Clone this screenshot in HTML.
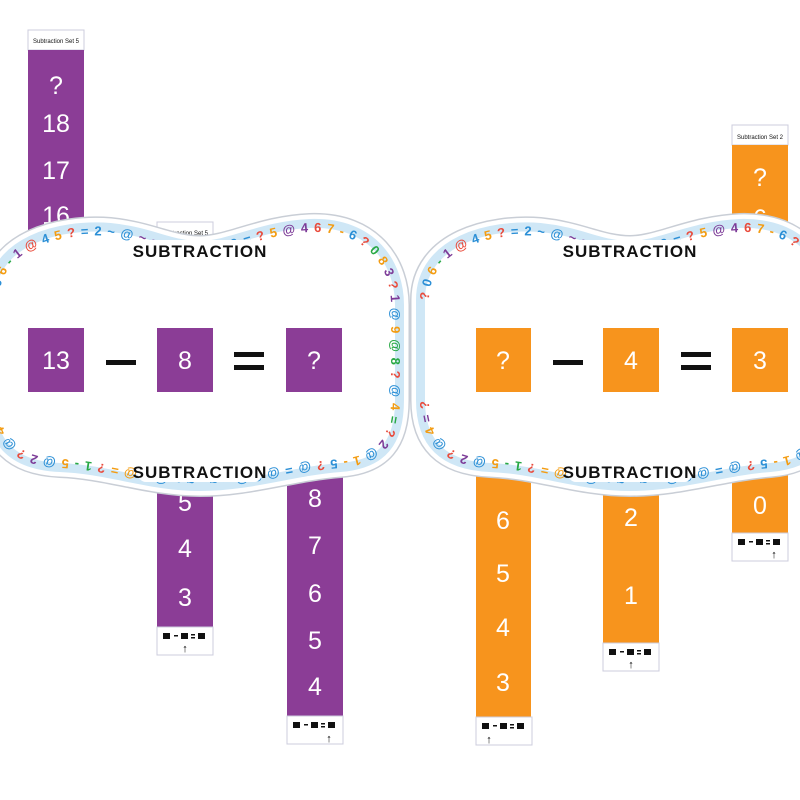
<!DOCTYPE html>
<html><head><meta charset="utf-8"><style>
html,body{margin:0;padding:0;background:#fff;width:800px;height:800px;overflow:hidden}
svg{display:block}
.n{font-family:"Liberation Sans",sans-serif;fill:#fff;font-size:25px;text-anchor:middle}
.h{font-family:"Liberation Sans",sans-serif;fill:#111;font-size:6px;text-anchor:middle}
.t{font-family:"Liberation Sans",sans-serif;font-weight:bold;font-size:17px;fill:#111;text-anchor:middle;letter-spacing:1px}
.d{font-family:"Liberation Sans",sans-serif;font-weight:bold;font-size:13px}
</style></head><body>
<svg width="800" height="800" viewBox="0 0 800 800" xmlns="http://www.w3.org/2000/svg">
<defs>
<path id="bd" d="M -5,300 C -5,245 60,228 110,232 C 150,236 170,250 200,250 C 230,250 262,230 310,228 C 372,226 395,268 395,305 L 395,400 C 395,440 380,460 340,463 C 290,467 250,482 200,482 C 150,482 110,465 60,463 C 15,461 -5,440 -5,400 Z"/>
<g id="ft"><rect x="0" y="0" width="56" height="28" fill="#fff" stroke="#ccd" stroke-width="1"/>
<rect x="6" y="6" width="7" height="6" fill="#111"/><rect x="17" y="8" width="4" height="1.5" fill="#111"/><rect x="24" y="6" width="7" height="6" fill="#111"/><rect x="34" y="7" width="4" height="1.5" fill="#111"/><rect x="34" y="10" width="4" height="1.5" fill="#111"/><rect x="41" y="6" width="7" height="6" fill="#111"/></g>
</defs>

<!-- LEFT strips -->
<rect x="28" y="30" width="56" height="20" fill="#fff" stroke="#ccd"/>
<text class="h" x="56" y="43">Subtraction Set 5</text>
<rect x="28" y="50" width="56" height="200" fill="#8b3d96"/>
<text class="n" x="56" y="94">?</text><text class="n" x="56" y="132">18</text><text class="n" x="56" y="179">17</text><text class="n" x="56" y="224">16</text>
<rect x="157" y="222" width="56" height="18" fill="#fff" stroke="#ccd"/>
<text class="h" x="185" y="235">Subtraction Set 5</text>
<rect x="157" y="240" width="56" height="387" fill="#8b3d96"/>
<text class="n" x="185" y="511">5</text><text class="n" x="185" y="557">4</text><text class="n" x="185" y="606">3</text>
<use href="#ft" x="157" y="627"/><text x="185" y="652" font-size="11" text-anchor="middle" font-weight="bold">↑</text>
<rect x="287" y="300" width="56" height="416" fill="#8b3d96"/>
<text class="n" x="315" y="507">8</text><text class="n" x="315" y="554">7</text><text class="n" x="315" y="602">6</text><text class="n" x="315" y="649">5</text><text class="n" x="315" y="695">4</text>
<use href="#ft" x="287" y="716"/><text x="329" y="742" font-size="11" text-anchor="middle" font-weight="bold">↑</text>

<!-- RIGHT strips -->
<rect x="476" y="300" width="55" height="417" fill="#f7941d"/>
<text class="n" x="503" y="529">6</text><text class="n" x="503" y="582">5</text><text class="n" x="503" y="636">4</text><text class="n" x="503" y="691">3</text>
<use href="#ft" x="476" y="717"/><text x="489" y="743" font-size="11" text-anchor="middle" font-weight="bold">↑</text>
<rect x="603" y="236" width="56" height="8" fill="#fff" stroke="#ccd"/>
<rect x="603" y="244" width="56" height="399" fill="#f7941d"/>
<text class="n" x="631" y="526">2</text><text class="n" x="631" y="604">1</text>
<use href="#ft" x="603" y="643"/><text x="631" y="668" font-size="11" text-anchor="middle" font-weight="bold">↑</text>
<rect x="732" y="125" width="56" height="20" fill="#fff" stroke="#ccd"/>
<text class="h" x="760" y="139">Subtraction Set 2</text>
<rect x="732" y="145" width="56" height="388" fill="#f7941d"/>
<text class="n" x="760" y="186">?</text><text class="n" x="760" y="227">6</text><text class="n" x="760" y="514">0</text>
<use href="#ft" x="732" y="533"/><text x="774" y="558" font-size="11" text-anchor="middle" font-weight="bold">↑</text>

<!-- boards -->
<g id="b1">
<use href="#bd" fill="#fff" stroke="#c9ced6" stroke-width="30"/>
<use href="#bd" fill="#fff" stroke="#fff" stroke-width="27"/>
<use href="#bd" fill="#fff" stroke="#cfe7f6" stroke-width="18"/>
<use href="#bd" fill="#fff" stroke="none"/>
<text class="d" dy="4" textLength="1060" lengthAdjust="spacing"><textPath href="#bd" startOffset="0"><tspan fill="#e94b3c">?</tspan><tspan fill="#2b8fd6">0</tspan><tspan fill="#f39c12">6</tspan><tspan fill="#27a844">-</tspan><tspan fill="#7d3c98">1</tspan><tspan fill="#e94b3c">@</tspan><tspan fill="#2b8fd6">4</tspan><tspan fill="#f39c12">5</tspan><tspan fill="#e94b3c">?</tspan><tspan fill="#2b8fd6">=2~@</tspan><tspan fill="#7d3c98">~~            ~~</tspan><tspan fill="#2b8fd6">@~2=</tspan><tspan fill="#e94b3c">?</tspan><tspan fill="#f39c12">5</tspan><tspan fill="#7d3c98">@4</tspan><tspan fill="#e94b3c">6</tspan><tspan fill="#f39c12">7-</tspan><tspan fill="#2b8fd6">6</tspan><tspan fill="#e94b3c">?</tspan><tspan fill="#27a844">0</tspan><tspan fill="#f39c12">8</tspan><tspan fill="#7d3c98">3</tspan><tspan fill="#e94b3c">?</tspan><tspan fill="#7d3c98">1</tspan><tspan fill="#2b8fd6">@</tspan><tspan fill="#f39c12">9</tspan><tspan fill="#27a844">@8</tspan><tspan fill="#e94b3c">?</tspan><tspan fill="#2b8fd6">@</tspan><tspan fill="#f39c12">4</tspan><tspan fill="#27a844">=</tspan><tspan fill="#e94b3c">?</tspan><tspan fill="#7d3c98">2</tspan><tspan fill="#2b8fd6">@</tspan><tspan fill="#f39c12">1-</tspan><tspan fill="#2b8fd6">5</tspan><tspan fill="#e94b3c">?</tspan><tspan fill="#2b8fd6">@=@6@~~          ~~@6</tspan><tspan fill="#f39c12">@=</tspan><tspan fill="#e94b3c">?</tspan><tspan fill="#27a844">1-</tspan><tspan fill="#f39c12">5</tspan><tspan fill="#2b8fd6">@</tspan><tspan fill="#7d3c98">2</tspan><tspan fill="#e94b3c">?</tspan><tspan fill="#2b8fd6">@</tspan><tspan fill="#f39c12">4</tspan><tspan fill="#7d3c98">=</tspan><tspan fill="#e94b3c">?</tspan></textPath></text>
<rect x="138" y="240" width="124" height="20" fill="#fff" rx="8"/>
<text class="t" x="200" y="257">SUBTRACTION</text>
<rect x="138" y="462" width="124" height="20" fill="#fff" rx="8"/>
<text class="t" x="200" y="478">SUBTRACTION</text>
</g>
<use href="#b1" x="430"/>

<!-- windows left -->
<rect x="28" y="328" width="56" height="64" fill="#8b3d96"/><text class="n" x="56" y="369">13</text>
<rect x="106" y="360" width="30" height="5" fill="#111"/>
<rect x="157" y="328" width="56" height="64" fill="#8b3d96"/><text class="n" x="185" y="369">8</text>
<rect x="234" y="352" width="30" height="5" fill="#111"/><rect x="234" y="365" width="30" height="5" fill="#111"/>
<rect x="286" y="328" width="56" height="64" fill="#8b3d96"/><text class="n" x="314" y="369">?</text>
<!-- windows right -->
<rect x="476" y="328" width="55" height="64" fill="#f7941d"/><text class="n" x="503" y="369">?</text>
<rect x="553" y="360" width="30" height="5" fill="#111"/>
<rect x="603" y="328" width="56" height="64" fill="#f7941d"/><text class="n" x="631" y="369">4</text>
<rect x="681" y="352" width="30" height="5" fill="#111"/><rect x="681" y="365" width="30" height="5" fill="#111"/>
<rect x="732" y="328" width="56" height="64" fill="#f7941d"/><text class="n" x="760" y="369">3</text>
</svg>
</body></html>
